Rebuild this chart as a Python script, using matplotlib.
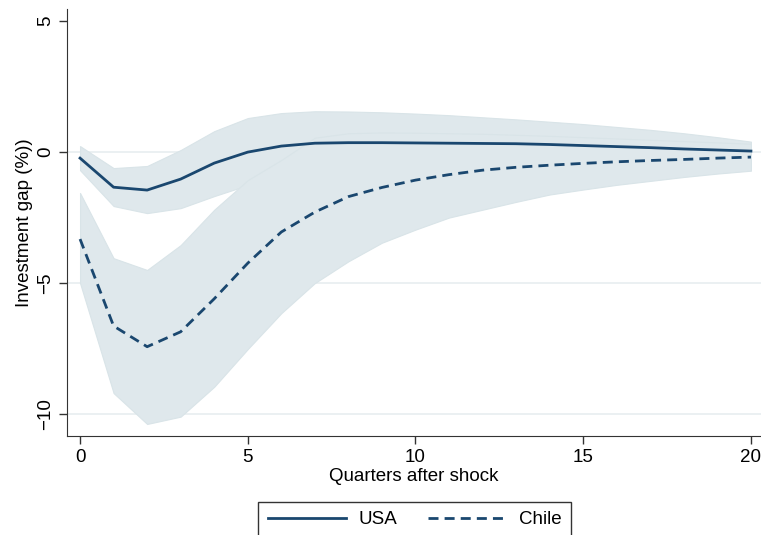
import numpy as np
import matplotlib.pyplot as plt

plt.rcParams['font.family'] = ['Liberation Sans', 'DejaVu Sans']

# Quarters after shock
quarters = list(range(21))

# USA impulse response and band
usa = [-0.23, -1.34, -1.45, -1.03, -0.42, 0.0, 0.23, 0.34, 0.36, 0.36, 0.35,
       0.34, 0.33, 0.32, 0.29, 0.25, 0.21, 0.17, 0.12, 0.08, 0.04]
usa_hi = [0.23, -0.61, -0.53, 0.08, 0.80, 1.30, 1.49, 1.56, 1.55, 1.52, 1.47,
          1.41, 1.33, 1.25, 1.16, 1.07, 0.96, 0.85, 0.72, 0.57, 0.40]
usa_lo = [-0.69, -2.06, -2.33, -2.14, -1.68, -1.26, -0.95, -0.78, -0.70, -0.64, -0.60,
          -0.56, -0.52, -0.49, -0.45, -0.42, -0.38, -0.35, -0.32, -0.30, -0.28]

# Chile impulse response and band
chile = [-3.32, -6.64, -7.43, -6.86, -5.6, -4.24, -3.05, -2.29, -1.7, -1.35, -1.07,
         -0.86, -0.69, -0.58, -0.5, -0.43, -0.37, -0.32, -0.28, -0.23, -0.19]
chile_hi = [-1.56, -4.05, -4.5, -3.55, -2.2, -1.07, -0.3, 0.55, 0.72, 0.75, 0.74,
            0.72, 0.70, 0.66, 0.62, 0.57, 0.52, 0.47, 0.42, 0.37, 0.32]
chile_lo = [-5.0, -9.2, -10.38, -10.1, -8.96, -7.52, -6.15, -5.0, -4.17, -3.46, -2.96,
            -2.5, -2.2, -1.9, -1.62, -1.43, -1.25, -1.1, -0.95, -0.82, -0.71]

navy = '#1a476f'
band = '#dfe8ec'

fig = plt.figure(figsize=(7.61, 5.35), dpi=100)
ax = fig.add_axes([0.088, 0.185, 0.912, 0.798])

for yv in [0, -5, -10]:
    ax.axhline(yv, color='#e8eef0', lw=1.2, zorder=0)

ax.fill_between(quarters, usa_lo, usa_hi, color=band, lw=0.8, edgecolor='#d9e4e8', zorder=1)
ax.fill_between(quarters, chile_lo, chile_hi, color=band, lw=0.8, edgecolor='#d9e4e8', zorder=1)
ax.plot(quarters, usa, color=navy, lw=2, label='USA', zorder=3)
ax.plot(quarters, chile, color=navy, lw=2, ls=(0, (3.6, 2.2)), label='Chile', zorder=3)

ax.set_xlim(-0.39, 20.3)
ax.set_ylim(-10.84, 5.46)
ax.set_xticks([0, 5, 10, 15, 20])
ax.set_yticks([5, 0, -5, -10])
ax.set_yticklabels(['5', '0', '\u22125', '\u221210'], rotation=90, va='center')
ax.tick_params(labelsize=13.5, length=6, width=1, color='#333333')
ax.spines['top'].set_visible(False)
ax.spines['right'].set_visible(False)
ax.spines['left'].set_color('#333333')
ax.spines['bottom'].set_color('#333333')
ax.set_xlabel('Quarters after shock', fontsize=13.5, labelpad=1)
ax.set_ylabel('Investment gap (%))', fontsize=13.5, labelpad=3)

leg = fig.legend(loc='upper center', bbox_to_anchor=(0.545, 1 - 502 / 535), ncol=2,
                 fontsize=13.5, frameon=True, fancybox=False, edgecolor='black',
                 handlelength=4.2, handletextpad=0.65, columnspacing=1.65,
                 borderpad=0.5, borderaxespad=0)
leg.get_frame().set_linewidth(1)

fig.savefig('out.png', dpi=100)
